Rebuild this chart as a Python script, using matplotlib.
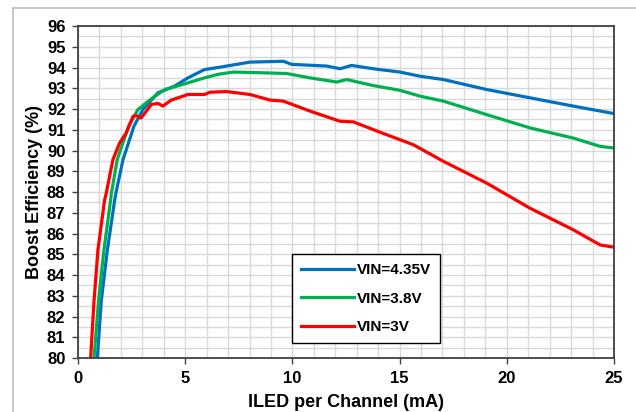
import numpy as np
import matplotlib.pyplot as plt
from matplotlib.lines import Line2D
from matplotlib.ticker import MultipleLocator

plt.rcParams['font.family'] = ['Liberation Sans', 'DejaVu Sans']

# VIN = 4.35V
x_435 = [0.9, 0.97, 1.09, 1.37, 1.71, 1.77, 2.10, 2.61, 3.03, 3.73, 4.5, 5.13, 5.9, 6.53,
         8.02, 9.58, 9.97, 11.6, 12.22, 12.76, 13.77, 15.02, 15.95, 17.04, 19.06, 21.08,
         23.1, 25.0]
y_435 = [80.0, 81.0, 82.77, 85.2, 87.6, 87.95, 89.56, 91.17, 91.98, 92.78, 93.1, 93.5, 93.9, 94.0,
         94.26, 94.3, 94.15, 94.07, 93.94, 94.1, 93.94, 93.78, 93.58, 93.42, 92.94, 92.54,
         92.14, 91.78]

# VIN = 3.8V
x_38 = [0.75, 0.96, 1.21, 1.52, 1.56, 1.83, 2.36, 2.8, 3.5, 4.07, 4.35, 5.13, 5.9, 6.53,
        7.24, 8.8, 9.73, 10.82, 12.07, 12.53, 13.77, 15.02, 15.95, 17.04, 19.06, 21.08,
        23.1, 24.35, 25.0]
y_38 = [80.0, 82.77, 85.2, 87.6, 87.95, 89.56, 91.17, 91.98, 92.55, 92.95, 93.02, 93.26, 93.5, 93.67,
        93.78, 93.74, 93.71, 93.5, 93.3, 93.42, 93.13, 92.9, 92.62, 92.38, 91.73, 91.09,
        90.6, 90.2, 90.12]

# VIN = 3V
x_3 = [0.59, 0.75, 0.93, 1.24, 1.32, 1.63, 1.94, 2.25, 2.57, 2.72, 2.95, 3.42, 3.73, 3.96,
       4.35, 5.13, 5.9, 6.16, 6.93, 8.02, 8.96, 9.58, 10.82, 12.22, 12.84, 14.09, 15.02,
       15.64, 17.04, 19.06, 21.08, 23.1, 24.35, 25.0]
y_3 = [80.0, 82.77, 85.2, 87.6, 87.95, 89.56, 90.36, 90.85, 91.65, 91.68, 91.57, 92.22, 92.27, 92.14,
       92.43, 92.7, 92.7, 92.81, 92.84, 92.7, 92.43, 92.38, 91.9, 91.41, 91.38, 90.88, 90.52,
       90.28, 89.48, 88.43, 87.22, 86.18, 85.45, 85.34]

fig = plt.figure(figsize=(6.36, 4.12), dpi=100)
ax = fig.add_axes([0.1226, 0.131, 0.8428, 0.8059])

ax.plot(x_435, y_435, color='#0070C0', lw=2.3, label='VIN=4.35V')
ax.plot(x_38, y_38, color='#00B050', lw=2.3, label='VIN=3.8V')
ax.plot(x_3, y_3, color='#FF0000', lw=2.3, label='VIN=3V')

ax.set_xlim(0, 25)
ax.set_ylim(80, 96)
ax.xaxis.set_major_locator(MultipleLocator(5))
ax.xaxis.set_minor_locator(MultipleLocator(1))
ax.yaxis.set_major_locator(MultipleLocator(1))
ax.yaxis.set_minor_locator(MultipleLocator(0.5))
ax.grid(which='both', color='#d9d9d9', lw=1)
ax.set_axisbelow(True)
ax.tick_params(which='major', direction='out', length=4, width=1, labelsize=12,
               color='#404040')
ax.tick_params(axis='y', pad=5)
ax.tick_params(axis='x', pad=5)
ax.tick_params(which='minor', length=0)
for lab in ax.get_xticklabels() + ax.get_yticklabels():
    lab.set_fontweight('bold')
for s in ax.spines.values():
    s.set_color('#404040')
    s.set_linewidth(1.3)

ax.set_xlabel('ILED per Channel (mA)', fontsize=13, fontweight='bold', labelpad=6)
ax.set_ylabel('Boost Efficiency (%)', fontsize=13, fontweight='bold', labelpad=3)

leg = ax.legend(loc='upper left', bbox_to_anchor=(0.3993, 0.3133), borderaxespad=0,
                handlelength=3.45, handletextpad=0.2, labelspacing=0.95, borderpad=0.6,
                fancybox=False, framealpha=1, prop={'size': 11, 'weight': 'bold'})
leg.get_frame().set_edgecolor('black')
leg.get_frame().set_linewidth(1)

# outer chart border
fig.add_artist(Line2D([13/636, 13/636], [0, 1 - 8/412], color='#bfbfbf', lw=1.2))
fig.add_artist(Line2D([13/636, 1], [1 - 8/412, 1 - 8/412], color='#bfbfbf', lw=1.2))

plt.savefig('out.png', dpi=100)
